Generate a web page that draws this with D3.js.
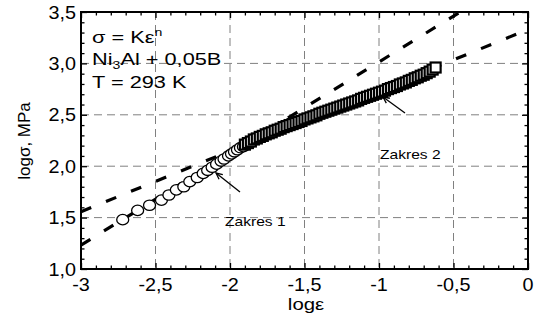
<!DOCTYPE html>
<html><head><meta charset="utf-8">
<script src="https://cdn.jsdelivr.net/npm/d3@7"></script>
<style>body{margin:0;background:#fff}svg{display:block}text{font-family:"Liberation Sans",Arial,sans-serif;fill:#000}</style>
</head><body><svg id="c" width="538" height="327"></svg>
<script>
// Zakres 1 (open circles): log strain, log stress
const circX = [-2.72,-2.62,-2.54,-2.46,-2.41,-2.36,-2.31,-2.27,-2.22,-2.18,-2.15,-2.12,-2.09,-2.06,-2.04,-2.01,-1.99,-1.97,-1.95,-1.93,-1.91,-1.89,-1.87];
const circY = [1.48,1.57,1.62,1.67,1.72,1.77,1.80,1.85,1.89,1.93,1.96,1.99,2.02,2.05,2.07,2.10,2.12,2.14,2.16,2.18,2.19,2.21,2.22];
// Zakres 2 (open squares)
const sqX = [-1.90,-1.88,-1.86,-1.84,-1.82,-1.80,-1.78,-1.76,-1.74,-1.72,-1.70,-1.68,-1.66,-1.64,-1.62,-1.60,-1.58,-1.56,-1.54,-1.52,-1.50,-1.48,-1.46,-1.44,-1.42,-1.40,-1.38,-1.36,-1.34,-1.32,-1.30,-1.28,-1.26,-1.24,-1.22,-1.20,-1.18,-1.16,-1.14,-1.12,-1.10,-1.08,-1.06,-1.04,-1.02,-1.00,-0.98,-0.96,-0.94,-0.92,-0.90,-0.88,-0.86,-0.84,-0.82,-0.80,-0.78,-0.76,-0.74,-0.72,-0.70,-0.68,-0.66,-0.64,-0.62];
const sqY = [2.21,2.225,2.24,2.26,2.27,2.285,2.295,2.31,2.32,2.33,2.345,2.355,2.365,2.38,2.39,2.40,2.41,2.42,2.43,2.44,2.455,2.465,2.475,2.485,2.495,2.51,2.52,2.53,2.54,2.55,2.56,2.57,2.58,2.59,2.60,2.61,2.62,2.63,2.64,2.655,2.665,2.675,2.685,2.695,2.705,2.715,2.725,2.735,2.75,2.76,2.77,2.78,2.795,2.805,2.815,2.83,2.84,2.855,2.865,2.88,2.89,2.905,2.92,2.94,2.96];
// fitted power-law lines (endpoints in log units)
const fit1X = [-3.0,-0.455], fit1Y = [1.233,3.5];
const fit2X = [-3.0,0.0],   fit2Y = [1.557,3.33];
// axis ticks
const xTicks = [-3,-2.5,-2,-1.5,-1,-0.5,0];
const xTickLabels = ["-3","-2,5","-2","-1,5","-1","-0,5","0"];
const yTicks = [1.0,1.5,2.0,2.5,3.0,3.5];
const yTickLabels = ["1,0","1,5","2,0","2,5","3,0","3,5"];
const xMinor = [-2.9,-2.8,-2.7,-2.6,-2.4,-2.3,-2.2,-2.1,-1.9,-1.8,-1.7,-1.6,-1.4,-1.3,-1.2,-1.1,-0.9,-0.8,-0.7,-0.6,-0.4,-0.3,-0.2,-0.1];
const yMinor = [1.1,1.2,1.3,1.4,1.6,1.7,1.8,1.9,2.1,2.2,2.3,2.4,2.6,2.7,2.8,2.9,3.1,3.2,3.3,3.4];

const svg = d3.select("#c");
const L=81,R=528,T=12,B=269;
const x = d3.scaleLinear().domain([-3,0]).range([L,R]);
const y = d3.scaleLinear().domain([1,3.5]).range([B,T]);

// grid
const g = svg.append("g");
g.selectAll(".gx").data(xTicks.slice(1,-1)).enter().append("line")
 .attr("x1",d=>x(d)).attr("x2",d=>x(d)).attr("y1",T).attr("y2",B)
 .attr("stroke","#808080").attr("stroke-width",1).attr("stroke-dasharray","8,5");
g.selectAll(".gy").data(yTicks.slice(1,-1)).enter().append("line")
 .attr("y1",d=>y(d)).attr("y2",d=>y(d)).attr("x1",L).attr("x2",R)
 .attr("stroke","#808080").attr("stroke-width",1).attr("stroke-dasharray","8,5");

// fit lines
const line = d3.line().x(d=>x(d[0])).y(d=>y(d[1]));
[[fit1X,fit1Y],[fit2X,fit2Y]].forEach(([fx,fy])=>{
  svg.append("path").datum(fx.map((v,i)=>[v,fy[i]])).attr("d",line)
   .attr("fill","none").attr("stroke","#000").attr("stroke-width",3.2)
   .attr("stroke-dasharray","11,16");
});

// markers
svg.append("g").selectAll("ellipse").data(circX.map((v,i)=>[v,circY[i]])).enter().append("ellipse")
 .attr("cx",d=>x(d[0])).attr("cy",d=>y(d[1])).attr("rx",6).attr("ry",5.2)
 .attr("fill","#fff").attr("stroke","#000").attr("stroke-width",1.3);
svg.append("g").selectAll("rect").data(sqX.map((v,i)=>[v,sqY[i]])).enter().append("rect")
 .attr("x",d=>x(d[0])-5).attr("y",d=>y(d[1])-5).attr("width",10).attr("height",10)
 .attr("fill","#fff").attr("stroke","#000").attr("stroke-width",2.2);

// frame + axes
svg.append("rect").attr("x",L).attr("y",T).attr("width",R-L).attr("height",B-T)
 .attr("fill","none").attr("stroke","#000").attr("stroke-width",2);
function ticks(axisFn, scale, vals, len, pos){
  const a = axisFn(scale).tickValues(vals).tickSize(-len).tickFormat("");
  const gg = svg.append("g").attr("transform",pos).call(a);
  gg.select(".domain").remove();
  gg.selectAll("line").attr("stroke","#000").attr("stroke-width",1.3);
}
ticks(d3.axisBottom,x,xTicks,6,`translate(0,${B})`);
ticks(d3.axisBottom,x,xMinor,3.5,`translate(0,${B})`);
ticks(d3.axisTop,x,xTicks,6,`translate(0,${T})`);
ticks(d3.axisTop,x,xMinor,3.5,`translate(0,${T})`);
ticks(d3.axisLeft,y,yTicks,6,`translate(${L},0)`);
ticks(d3.axisLeft,y,yMinor,3.5,`translate(${L},0)`);
ticks(d3.axisRight,y,yTicks,6,`translate(${R},0)`);
ticks(d3.axisRight,y,yMinor,3.5,`translate(${R},0)`);

// tick labels
svg.append("g").selectAll("text").data(xTicks).enter().append("text")
 .attr("transform",d=>`translate(${x(d)},291) scale(1.1,1)`).attr("text-anchor","middle")
 .attr("font-size",18).text((d,i)=>xTickLabels[i]);
svg.append("g").selectAll("text").data(yTicks).enter().append("text")
 .attr("transform",d=>`translate(76,${y(d)+6.5}) scale(1.1,1)`).attr("text-anchor","end")
 .attr("font-size",18).text((d,i)=>yTickLabels[i]);

// axis titles
svg.append("text").attr("transform","translate(306,310) scale(1.2,1)").attr("text-anchor","middle")
 .attr("font-size",17).text("logε");
svg.append("text").attr("transform","translate(30,141) rotate(-90)").attr("text-anchor","middle")
 .attr("font-size",17).text("logσ, MPa");

// annotations
const ann = svg.append("g").attr("font-size",17);
const t1 = ann.append("text").attr("transform","translate(92,43) scale(1.28,1)");
t1.append("tspan").text("σ = Kε");
t1.append("tspan").attr("font-size",11).attr("dy",-7).text("n");
const t2 = ann.append("text").attr("transform","translate(92,65) scale(1.28,1)");
t2.append("tspan").text("Ni");
t2.append("tspan").attr("font-size",11).attr("dy",4).text("3");
t2.append("tspan").attr("dy",-4).text("Al + 0,05B");
ann.append("text").attr("transform","translate(92,88) scale(1.28,1)").text("T = 293 K");
svg.append("text").attr("transform","translate(380,159) scale(1.2,1)").attr("font-size",13).text("Zakres 2");
svg.append("text").attr("transform","translate(225,226) scale(1.2,1)").attr("font-size",13).text("Zakres 1");

// arrows
function arrow(x1,y1,x2,y2){
  svg.append("line").attr("x1",x1).attr("y1",y1).attr("x2",x2).attr("y2",y2).attr("stroke","#000").attr("stroke-width",1.3);
  const a=Math.atan2(y2-y1,x2-x1), h=7, w=0.45;
  const p=[[x2-h*Math.cos(a-w),y2-h*Math.sin(a-w)],[x2,y2],[x2-h*Math.cos(a+w),y2-h*Math.sin(a+w)]];
  svg.append("path").attr("d",d3.line()(p)).attr("fill","none").attr("stroke","#000").attr("stroke-width",1.3);
}
arrow(240,192,216,173);
arrow(405,113,383,97);
</script></body></html>
